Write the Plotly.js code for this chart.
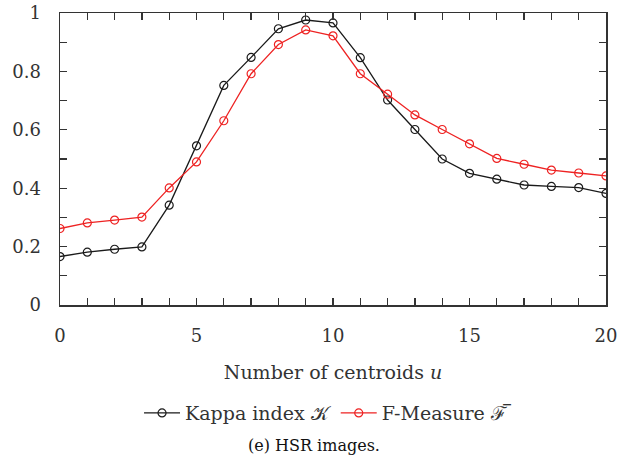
<!DOCTYPE html>
<html>
<head>
<meta charset="utf-8">
<script src="https://cdn.plot.ly/plotly-3.0.1.min.js"></script>
<style>html,body{margin:0;padding:0;background:#fff;}#chart{width:630px;height:472px;}</style>
</head>
<body>
<div id="chart"></div>
<script>
const centroids = [0,1,2,3,4,5,6,7,8,9,10,11,12,13,14,15,16,17,18,19,20];
const kappa = [0.166,0.181,0.191,0.199,0.342,0.545,0.752,0.848,0.946,0.976,0.966,0.847,0.702,0.601,0.500,0.451,0.431,0.411,0.406,0.402,0.382];
const fmeasure = [0.262,0.281,0.291,0.301,0.401,0.490,0.631,0.792,0.892,0.942,0.922,0.792,0.722,0.651,0.601,0.552,0.502,0.482,0.462,0.452,0.442];
const xTickVals = centroids;
const xTickText = ["0","","","","","5","","","","","10","","","","","15","","","","","20"];
const yTickVals = [0,0.1,0.2,0.3,0.4,0.5,0.6,0.7,0.8,0.9,1];
const yTickText = ["0","","0.2","","0.4","","0.6","","0.8","","1"];
const kappaName = "Kappa index 𝒦";
const fName = "F-Measure ℱ\u0305";
const xTitle = "Number of centroids <i>u</i>";
const caption = "(e) HSR images.";

const serif = "DejaVu Serif";
const traces = [
  {x: centroids, y: kappa, name: kappaName, type: "scatter", mode: "lines+markers",
   line: {color: "#1a1a1a", width: 1.3},
   marker: {symbol: "circle-open", size: 8, color: "#1a1a1a", line: {width: 1.2}}},
  {x: centroids, y: fmeasure, name: fName, type: "scatter", mode: "lines+markers",
   line: {color: "#ee2222", width: 1.3},
   marker: {symbol: "circle-open", size: 8, color: "#ee2222", line: {width: 1.2}}}
];
const axisCommon = {
  showgrid: false, zeroline: false, showline: true, linecolor: "#333", linewidth: 1.5,
  mirror: "allticks", ticks: "inside", ticklen: 7, tickwidth: 1.3, tickcolor: "#333",
  tickfont: {family: serif, size: 18, color: "#333"}
};
const layout = {
  width: 630, height: 472,
  margin: {l: 60, r: 24, t: 13, b: 167},
  paper_bgcolor: "#fff", plot_bgcolor: "#fff",
  font: {family: serif, color: "#333"},
  showlegend: true,
  xaxis: Object.assign({}, axisCommon, {
    range: [0, 20], tickmode: "array", tickvals: xTickVals, ticktext: xTickText,
    ticklabelstandoff: 14,
    title: {text: xTitle, font: {family: serif, size: 19, color: "#333"}, standoff: 20}
  }),
  yaxis: Object.assign({}, axisCommon, {
    range: [0, 1], tickmode: "array", tickvals: yTickVals, ticktext: yTickText,
    ticklabelstandoff: 14
  }),
  legend: {orientation: "h", x: 0.49, xanchor: "center", y: -0.37, yanchor: "middle",
    font: {family: serif, size: 19, color: "#333"}, itemwidth: 36, bgcolor: "rgba(0,0,0,0)"},
  annotations: [{text: caption, xref: "paper", yref: "paper", x: 0.465, y: -0.48,
    xanchor: "center", yanchor: "middle", showarrow: false,
    font: {family: serif, size: 16, color: "#111"}}]
};
Plotly.newPlot("chart", traces, layout, {displayModeBar: false, staticPlot: true});
</script>
</body>
</html>
